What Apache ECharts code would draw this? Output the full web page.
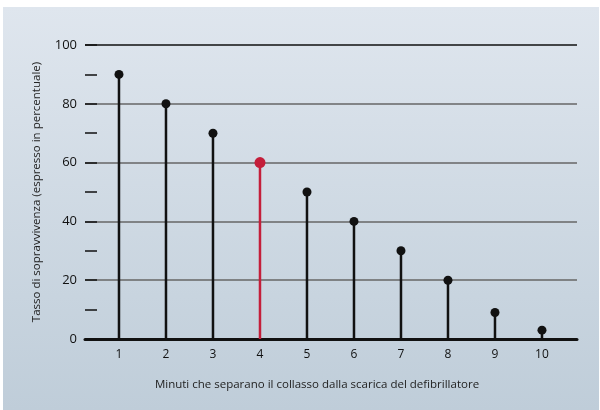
<!DOCTYPE html>
<html>
<head>
<meta charset="utf-8">
<script src="https://cdn.jsdelivr.net/npm/echarts@6/dist/echarts.min.js"></script>
<style>
  html, body { margin: 0; padding: 0; background: #fff; }
  #wrap { position: absolute; left: 3px; top: 7px; width: 596px; height: 403px;
          background: linear-gradient(to bottom, #dfe6ee, #bfcdd9); }
  #main { position: absolute; left: -3px; top: -7px; width: 600px; height: 410px; }
</style>
</head>
<body>
<div id="wrap"><div id="main"></div></div>
<script>
// minuti e tasso di sopravvivenza
var minutes = [1, 2, 3, 4, 5, 6, 7, 8, 9, 10];
var survival = [90, 80, 70, 60, 50, 40, 30, 20, 9, 3];
var highlight = 4;
var yTicks = [0, 20, 40, 60, 80, 100];

var black = '#111';
var red = '#c41e3a';

var myChart = echarts.init(document.getElementById('main'));

var stems = minutes.map(function (m, i) {
    return { value: [m, survival[i]], itemStyle: { color: m === highlight ? red : black } };
});
var dots = minutes.map(function (m, i) {
    return {
        value: [m, survival[i]],
        symbolSize: m === highlight ? 11 : 9,
        itemStyle: { color: m === highlight ? red : black, opacity: 1 }
    };
});

var option = {
    backgroundColor: 'transparent',
    animation: false,
    grid: { left: 85, right: 23, top: 45, bottom: 71 },
    xAxis: {
        type: 'value',
        min: 0.277,
        max: 10.745,
        name: 'Minuti che separano il collasso dalla scarica del defibrillatore',
        nameLocation: 'middle',
        nameGap: 40,
        nameTextStyle: { color: '#222', fontSize: 11.5, fontFamily: 'Open Sans', padding: [0, 28, 0, 0] },
        axisLine: { show: true, onZero: false, lineStyle: { color: black, width: 3 } },
        axisTick: { show: false },
        splitLine: { show: false },
        axisLabel: {
            customValues: minutes,
            margin: 10,
            color: black,
            fontSize: 12,
            fontFamily: 'Open Sans'
        }
    },
    yAxis: {
        type: 'value',
        min: 0,
        max: 100,
        interval: 20,
        name: 'Tasso di sopravvivenza (espresso in percentuale)',
        nameLocation: 'middle',
        nameGap: 42,
        nameTextStyle: { color: '#222', fontSize: 11.5, fontFamily: 'Open Sans' },
        axisLine: { show: false },
        axisTick: { show: true, inside: true, length: 12, lineStyle: { color: black, width: 1.5 } },
        minorTick: { show: true, splitNumber: 2, length: 12, lineStyle: { color: black, width: 1.5 } },
        axisLabel: {
            margin: 8,
            color: black,
            fontSize: 13,
            fontFamily: 'Open Sans',
            formatter: function (v) { return yTicks.indexOf(v) >= 0 ? String(v) : ''; }
        },
        splitLine: { show: true, lineStyle: { color: ['#111', '#666', '#666', '#666', '#666', '#111'], width: 1.5 } }
    },
    series: [
        {
            type: 'bar',
            barWidth: 2.5,
            data: stems,
            z: 3
        },
        {
            type: 'scatter',
            symbol: 'circle',
            data: dots,
            z: 4
        }
    ]
};
myChart.setOption(option);
</script>
</body>
</html>
